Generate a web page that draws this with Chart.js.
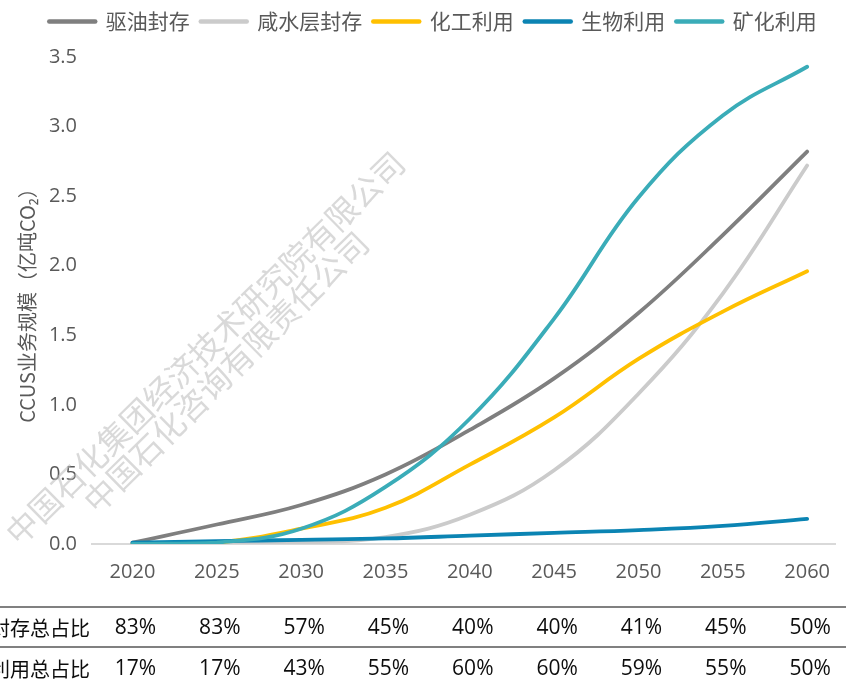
<!DOCTYPE html>
<html>
<head>
<meta charset="utf-8">
<script src="https://cdn.jsdelivr.net/npm/chart.js@4"></script>
<style>
  html, body { margin: 0; padding: 0; background: #fff; overflow: hidden; }
  #c { display: block; }
</style>
</head>
<body>
<canvas id="c" width="846" height="684"></canvas>
<script>
// ---- data ----
const years = [2020, 2025, 2030, 2035, 2040, 2045, 2050, 2055, 2060];
const seriesNames = ['驱油封存', '咸水层封存', '化工利用', '生物利用', '矿化利用'];
const eorStorage     = [0.01, 0.14, 0.28, 0.50, 0.82, 1.19, 1.66, 2.22, 2.82];
const salineStorage  = [0.00, 0.00, 0.01, 0.05, 0.21, 0.53, 1.08, 1.80, 2.72];
const chemicalUse    = [0.00, 0.01, 0.11, 0.26, 0.57, 0.91, 1.33, 1.67, 1.96];
const biologicalUse  = [0.01, 0.02, 0.03, 0.04, 0.06, 0.08, 0.10, 0.13, 0.18];
const mineralUse     = [0.00, 0.01, 0.11, 0.41, 0.90, 1.62, 2.49, 3.08, 3.43];
const yAxisTitle = 'CCUS业务规模（亿吨CO₂）';
const tableRowLabels = ['封存总占比', '利用总占比'];
const storageShare = ['83%', '83%', '57%', '45%', '40%', '40%', '41%', '45%', '50%'];
const utilShare    = ['17%', '17%', '43%', '55%', '60%', '60%', '59%', '55%', '50%'];
const watermark1 = '中国石化集团经济技术研究院有限公司';
const watermark2 = '中国石化咨询有限责任公司';

// ---- styles ----
const colors = ['#7f7f7f', '#cbcbcb', '#ffc000', '#0b84b3', '#3aacb8'];
const FAMILY = '"Open Sans", "Noto Sans CJK SC", sans-serif';
const CJK = '"Noto Sans CJK SC", "Open Sans", sans-serif';
const seriesValues = [eorStorage, salineStorage, chemicalUse, biologicalUse, mineralUse];

const datasets = seriesValues.map((vals, i) => ({
  label: seriesNames[i],
  data: years.map((yr, k) => ({ x: yr, y: vals[k] })),
  borderColor: colors[i],
  backgroundColor: colors[i],
  borderWidth: 3.8,
  pointRadius: 0,
  pointHoverRadius: 0,
  tension: 0.4,
  borderCapStyle: 'round',
  borderJoinStyle: 'round',
  fill: false,
  order: 5 - i
}));

const layoutFix = {
  id: 'layoutFix',
  beforeLayout(chart) {
    const lg = chart.legend;
    if (lg && !lg._patched) {
      const orig = lg.fit;
      lg.fit = function () { orig.call(this); this.height = 57; };
      lg._patched = true;
    }
  },
  afterLayout(chart) {
    const lg = chart.legend;
    if (lg) { lg.left += 10; lg.right += 10; }
  }
};

const watermarkPlugin = {
  id: 'watermark',
  beforeDatasetsDraw(chart) {
    const ctx = chart.ctx;
    const ang = -44.5 * Math.PI / 180;
    [[watermark1, 205, 348], [watermark2, 226, 372]].forEach(([t, cx, cy]) => {
      ctx.save();
      ctx.fillStyle = 'rgba(185,185,185,0.55)';
      ctx.font = '32px ' + CJK;
      ctx.textAlign = 'center';
      ctx.textBaseline = 'middle';
      ctx.translate(cx, cy);
      ctx.rotate(ang);
      ctx.fillText(t, 0, 0);
      ctx.restore();
    });
  }
};

const tablePlugin = {
  id: 'table',
  afterDraw(chart) {
    const ctx = chart.ctx;
    const xs = chart.scales.x;
    const W = chart.width;
    ctx.save();
    ctx.strokeStyle = '#808080';
    ctx.lineWidth = 2;
    [607, 647].forEach(y => {
      ctx.beginPath(); ctx.moveTo(0, y); ctx.lineTo(W, y); ctx.stroke();
    });
    ctx.fillStyle = '#0d0d0d';
    ctx.textBaseline = 'middle';
    ctx.font = '20px ' + CJK;
    ctx.textAlign = 'right';
    ctx.fillText(tableRowLabels[0], 90, 628);
    ctx.fillText(tableRowLabels[1], 90, 669);
    ctx.font = '21px ' + FAMILY;
    ctx.textAlign = 'center';
    years.forEach((yr, i) => {
      const px = xs.getPixelForValue(yr) + 3;
      ctx.fillText(storageShare[i], px, 628);
      ctx.fillText(utilShare[i], px, 669);
    });
    ctx.restore();
  }
};

Chart.defaults.font.family = FAMILY;

new Chart(document.getElementById('c'), {
  type: 'line',
  data: { datasets },
  plugins: [layoutFix, watermarkPlugin, tablePlugin],
  options: {
    responsive: false,
    animation: false,
    events: [],
    layout: { padding: { left: 0, right: 0, top: 0, bottom: 100 } },
    plugins: {
      tooltip: { enabled: false },
      legend: {
        display: true,
        position: 'top',
        align: 'center',
        labels: {
          usePointStyle: true,
          pointStyle: 'line',
          pointStyleWidth: 46,
          padding: 11,
          color: '#595959',
          font: { size: 21, family: CJK },
          generateLabels(chart) {
            return chart.data.datasets.map((ds, i) => ({
              text: ds.label,
              fillStyle: ds.borderColor,
              strokeStyle: ds.borderColor,
              lineWidth: 4.5,
              lineCap: 'round',
              pointStyle: 'line',
              fontColor: '#595959',
              hidden: false,
              datasetIndex: i
            }));
          }
        }
      }
    },
    scales: {
      x: {
        type: 'linear',
        min: 2017.6,
        max: 2061.7,
        afterFit(scale) { scale.height = 40; },
        afterBuildTicks(scale) { scale.ticks = years.map(v => ({ value: v })); },
        grid: { display: false, drawTicks: false },
        border: { display: true, color: '#d9d9d9', width: 2 },
        ticks: {
          padding: 16,
          color: '#595959',
          font: { size: 20, family: FAMILY },
          autoSkip: false,
          maxRotation: 0,
          callback: v => String(v)
        }
      },
      y: {
        min: 0,
        max: 3.5,
        afterFit(scale) { scale.width = 92; },
        grid: { display: false, drawTicks: false },
        border: { display: false },
        ticks: {
          stepSize: 0.5,
          padding: 15,
          color: '#595959',
          font: { size: 20, family: FAMILY },
          callback: v => Number(v).toFixed(1)
        },
        title: {
          display: true,
          text: yAxisTitle,
          color: '#595959',
          font: { size: 20, family: CJK },
          padding: { top: 15, bottom: 0 }
        }
      }
    }
  }
});
</script>
</body>
</html>
